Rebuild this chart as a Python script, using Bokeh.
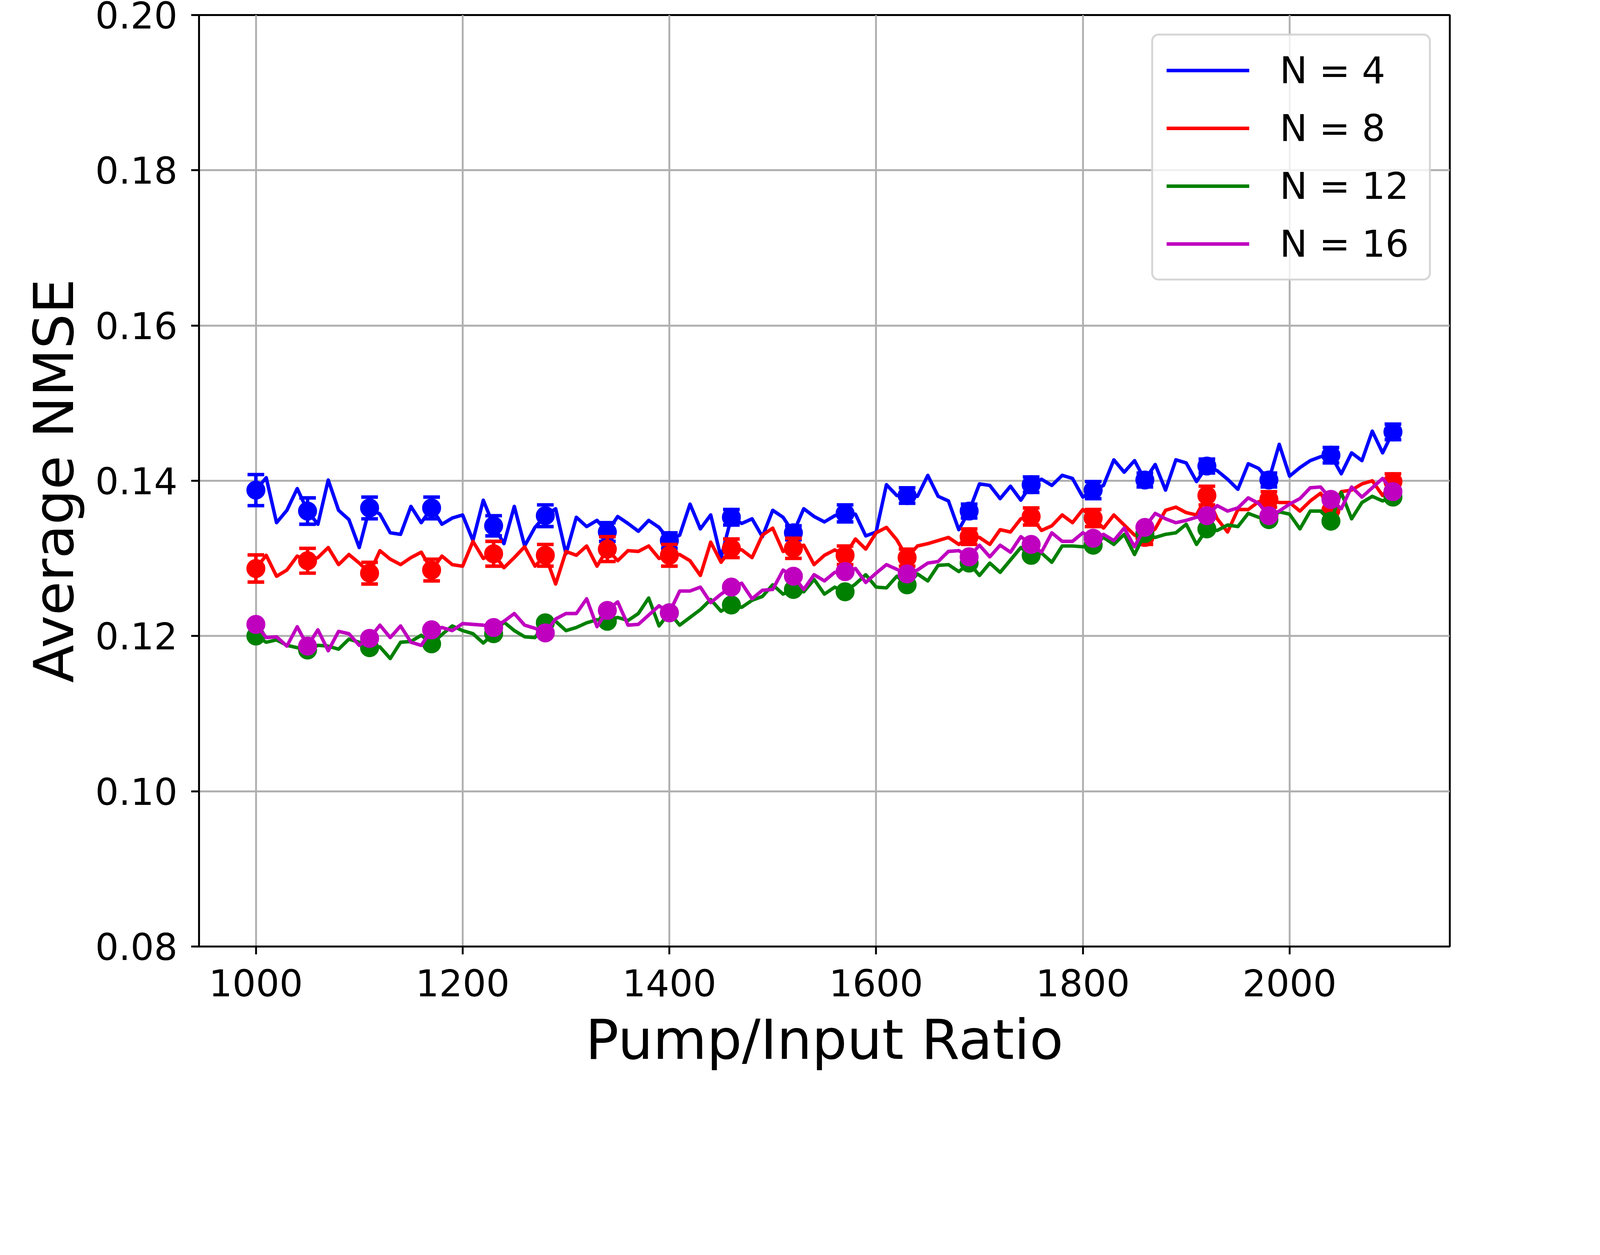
from bokeh.plotting import figure
from bokeh.models import Range1d, FixedTicker, Legend, LegendItem
from bokeh.embed import file_html
from bokeh.resources import INLINE

# ---------------- data ----------------
ratio = list(range(1000, 2110, 10))

n4 = [0.1388, 0.1404, 0.1346, 0.1362, 0.1390, 0.1361, 0.1344, 0.1401, 0.1362, 0.1350,
      0.1314, 0.1365, 0.1357, 0.1333, 0.1331, 0.1367, 0.1346, 0.1365, 0.1344, 0.1352,
      0.1356, 0.1323, 0.1375, 0.1342, 0.1319, 0.1367, 0.1316, 0.1340, 0.1355, 0.1364,
      0.1306, 0.1353, 0.1341, 0.1349, 0.1334, 0.1354, 0.1345, 0.1335, 0.1349, 0.1340,
      0.1323, 0.1330, 0.1370, 0.1338, 0.1356, 0.1301, 0.1353, 0.1345, 0.1351, 0.1328,
      0.1362, 0.1353, 0.1333, 0.1364, 0.1354, 0.1347, 0.1355, 0.1358, 0.1357, 0.1329,
      0.1334, 0.1395, 0.1381, 0.1381, 0.1380, 0.1407, 0.1380, 0.1374, 0.1337, 0.1361,
      0.1396, 0.1394, 0.1377, 0.1393, 0.1375, 0.1395, 0.1402, 0.1394, 0.1407, 0.1403,
      0.1379, 0.1388, 0.1394, 0.1427, 0.1411, 0.1426, 0.1401, 0.1421, 0.1388, 0.1427,
      0.1423, 0.1399, 0.1419, 0.1413, 0.1402, 0.1389, 0.1422, 0.1416, 0.1401, 0.1447,
      0.1406, 0.1417, 0.1426, 0.1431, 0.1433, 0.1409, 0.1436, 0.1426, 0.1464, 0.1436,
      0.1463]

n8 = [0.1287, 0.1304, 0.1277, 0.1285, 0.1303, 0.1297, 0.1301, 0.1314, 0.1292, 0.1305,
      0.1294, 0.1281, 0.1310, 0.1299, 0.1292, 0.1301, 0.1308, 0.1285, 0.1303, 0.1292,
      0.1290, 0.1322, 0.1300, 0.1306, 0.1288, 0.1301, 0.1315, 0.1290, 0.1304, 0.1267,
      0.1309, 0.1304, 0.1316, 0.1290, 0.1312, 0.1297, 0.1310, 0.1309, 0.1316, 0.1300,
      0.1304, 0.1305, 0.1297, 0.1278, 0.1321, 0.1295, 0.1313, 0.1311, 0.1301, 0.1330,
      0.1339, 0.1309, 0.1313, 0.1317, 0.1292, 0.1304, 0.1311, 0.1304, 0.1325, 0.1312,
      0.1333, 0.1340, 0.1324, 0.1301, 0.1316, 0.1319, 0.1323, 0.1327, 0.1318, 0.1328,
      0.1327, 0.1318, 0.1337, 0.1334, 0.1351, 0.1354, 0.1336, 0.1342, 0.1356, 0.1346,
      0.1363, 0.1352, 0.1339, 0.1356, 0.1343, 0.1330, 0.1327, 0.1338, 0.1362, 0.1366,
      0.1359, 0.1356, 0.1381, 0.1351, 0.1334, 0.1363, 0.1363, 0.1373, 0.1376, 0.1372,
      0.1372, 0.1361, 0.1374, 0.1384, 0.1362, 0.1386, 0.1388, 0.1396, 0.1400, 0.1381,
      0.1399]

n12 = [0.1200, 0.1192, 0.1195, 0.1188, 0.1185, 0.1182, 0.1188, 0.1187, 0.1183, 0.1196,
       0.1192, 0.1185, 0.1186, 0.1171, 0.1192, 0.1193, 0.1201, 0.1190, 0.1202, 0.1213,
       0.1207, 0.1203, 0.1191, 0.1203, 0.1218, 0.1207, 0.1199, 0.1198, 0.1217, 0.1219,
       0.1207, 0.1211, 0.1217, 0.1221, 0.1219, 0.1224, 0.1220, 0.1229, 0.1249, 0.1213,
       0.1230, 0.1214, 0.1224, 0.1234, 0.1247, 0.1232, 0.1240, 0.1237, 0.1246, 0.1251,
       0.1266, 0.1254, 0.1260, 0.1257, 0.1273, 0.1254, 0.1263, 0.1257, 0.1267, 0.1279,
       0.1263, 0.1262, 0.1277, 0.1266, 0.1280, 0.1271, 0.1291, 0.1292, 0.1283, 0.1294,
       0.1278, 0.1294, 0.1282, 0.1298, 0.1314, 0.1304, 0.1307, 0.1295, 0.1316, 0.1316,
       0.1315, 0.1317, 0.1327, 0.1318, 0.1331, 0.1305, 0.1332, 0.1327, 0.1331, 0.1333,
       0.1344, 0.1318, 0.1338, 0.1336, 0.1343, 0.1341, 0.1358, 0.1353, 0.1350, 0.1360,
       0.1357, 0.1338, 0.1361, 0.1361, 0.1348, 0.1385, 0.1351, 0.1372, 0.1380, 0.1374,
       0.1379]

n16 = [0.1215, 0.1198, 0.1199, 0.1187, 0.1212, 0.1187, 0.1208, 0.1181, 0.1206, 0.1203,
       0.1188, 0.1197, 0.1214, 0.1198, 0.1213, 0.1192, 0.1188, 0.1208, 0.1211, 0.1207,
       0.1216, 0.1215, 0.1214, 0.1211, 0.1219, 0.1229, 0.1214, 0.1210, 0.1204, 0.1222,
       0.1229, 0.1229, 0.1248, 0.1212, 0.1233, 0.1244, 0.1214, 0.1215, 0.1227, 0.1239,
       0.1230, 0.1258, 0.1258, 0.1263, 0.1243, 0.1254, 0.1263, 0.1268, 0.1248, 0.1259,
       0.1260, 0.1285, 0.1277, 0.1260, 0.1279, 0.1271, 0.1282, 0.1283, 0.1287, 0.1269,
       0.1281, 0.1292, 0.1286, 0.1280, 0.1285, 0.1294, 0.1296, 0.1309, 0.1310, 0.1302,
       0.1317, 0.1302, 0.1317, 0.1308, 0.1328, 0.1318, 0.1308, 0.1333, 0.1322, 0.1322,
       0.1333, 0.1326, 0.1331, 0.1323, 0.1339, 0.1315, 0.1340, 0.1358, 0.1351, 0.1346,
       0.1349, 0.1353, 0.1355, 0.1368, 0.1361, 0.1365, 0.1378, 0.1371, 0.1355, 0.1361,
       0.1370, 0.1377, 0.1391, 0.1392, 0.1376, 0.1364, 0.1392, 0.1379, 0.1391, 0.1403,
       0.1386]

marker_ratio = [1000, 1050, 1110, 1170, 1230, 1280, 1340, 1400, 1460, 1520,
                1570, 1630, 1690, 1750, 1810, 1860, 1920, 1980, 2040, 2100]

err_n4 = [0.0020, 0.0017, 0.0014, 0.0014, 0.0013, 0.0014, 0.0012, 0.0010, 0.0010, 0.0009,
          0.0011, 0.0010, 0.0009, 0.0010, 0.0011, 0.0009, 0.0009, 0.0009, 0.0010, 0.0010]
err_n8 = [0.00175, 0.0016, 0.0014, 0.0014, 0.0016, 0.0014, 0.0016, 0.0014, 0.0012, 0.0013,
          0.0012, 0.0011, 0.0010, 0.0011, 0.0011, 0.0009, 0.0012, 0.0010, 0.0010, 0.0010]

series_labels = ["N = 4", "N = 8", "N = 12", "N = 16"]

x_ticks = [1000, 1200, 1400, 1600, 1800, 2000]
x_tick_labels = ["1000", "1200", "1400", "1600", "1800", "2000"]
y_ticks = [0.08, 0.10, 0.12, 0.14, 0.16, 0.18, 0.20]
y_tick_labels = ["0.08", "0.10", "0.12", "0.14", "0.16", "0.18", "0.20"]

# ---------------- styles ----------------
colors = ["#0000ff", "#ff0000", "#008000", "#bf00bf"]
FONT = "DejaVu Sans"
S = 0.8533          # CSS px per reference pixel
LW = 10.4 * S
SPINE = 5.6 * S

def px(v):
    return "%.1fpx" % (v * S)

p = figure(frame_width=3202, frame_height=2384,
           min_border_left=509, min_border_right=369,
           min_border_top=38, min_border_bottom=303,
           x_range=Range1d(945, 2155), y_range=Range1d(0.08, 0.20),
           output_backend="svg", toolbar_location=None,
           background_fill_color="white", border_fill_color="white")

p.outline_line_color = "black"
p.outline_line_width = SPINE

for ax in (p.xaxis[0], p.yaxis[0]):
    ax.axis_line_color = "black"
    ax.axis_line_width = SPINE
    ax.major_tick_line_color = "black"
    ax.major_tick_line_width = SPINE
    ax.major_tick_out = int(round(24 * S))
    ax.major_tick_in = 0
    ax.minor_tick_line_color = None
    ax.major_label_text_font = FONT
    ax.major_label_text_font_size = px(111)
    ax.major_label_text_color = "black"
    ax.axis_label_text_font = FONT
    ax.axis_label_text_font_size = px(166)
    ax.axis_label_text_font_style = "normal"
    ax.axis_label_text_color = "black"

p.xaxis.ticker = FixedTicker(ticks=x_ticks)
p.yaxis.ticker = FixedTicker(ticks=y_ticks)
p.xaxis.major_label_overrides = dict(zip(x_ticks, x_tick_labels))
p.yaxis.major_label_overrides = dict(zip(y_ticks, y_tick_labels))
p.xaxis.major_label_standoff = 38
p.yaxis.major_label_standoff = 35
p.xaxis.axis_label = "Pump/Input Ratio"
p.yaxis.axis_label = "Average NMSE"
p.xaxis.axis_label_standoff = 26
p.yaxis.axis_label_standoff = 21

for g in (p.xgrid[0], p.ygrid[0]):
    g.grid_line_color = "#b0b0b0"
    g.grid_line_width = SPINE

all_series = [n4, n8, n12, n16]
all_err = [err_n4, err_n8, None, None]

items = []
for vals, err, col, lab in zip(all_series, all_err, colors, series_labels):
    r = p.line(ratio, vals, line_color=col, line_width=LW, line_join="round")
    items.append(LegendItem(label=lab, renderers=[r]))
    my = [vals[ratio.index(x)] for x in marker_ratio]
    if err is not None:
        lo = [y - e for y, e in zip(my, err)]
        hi = [y + e for y, e in zip(my, err)]
        p.segment(x0=marker_ratio, y0=lo, x1=marker_ratio, y1=hi,
                  line_color=col, line_width=LW)
        p.scatter(marker_ratio, lo, marker="dash", size=50 * S,
                  line_color=col, line_width=LW)
        p.scatter(marker_ratio, hi, marker="dash", size=50 * S,
                  line_color=col, line_width=LW)
    p.scatter(marker_ratio, my, marker="circle", size=52 * S,
              fill_color=col, line_color=col, line_width=5 * S)

legend = Legend(items=items, location="top_right", margin=48,
                padding=34, spacing=38,
                glyph_width=212, glyph_height=100,
                label_height=100, label_width=348,
                label_standoff=78,
                label_text_font=FONT, label_text_font_size=px(111),
                label_text_color="black",
                border_line_color="#cccccc", border_line_width=7 * S,
                border_line_alpha=0.8, background_fill_color="white",
                background_fill_alpha=0.8)
if "border_radius" in Legend.properties():
    legend.border_radius = 19
p.add_layout(legend)

open("out.html", "w").write(file_html(p, INLINE))
